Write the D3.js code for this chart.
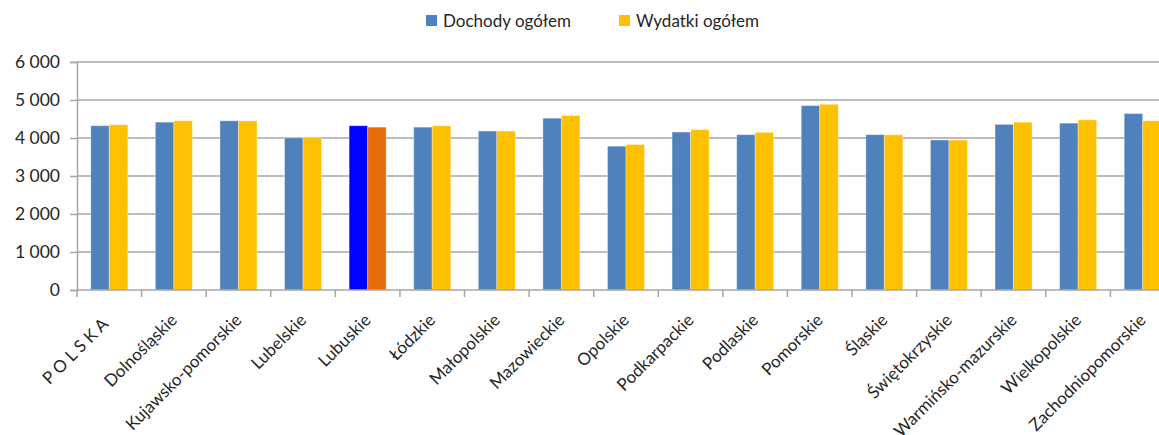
<!DOCTYPE html>
<html><head><meta charset="utf-8">
<script src="https://cdn.jsdelivr.net/npm/d3@7"></script>
<style>body{margin:0;background:#fff;overflow:hidden}svg{display:block}</style>
</head><body>
<script>
const categories = ["P O L S K A","Dolnośląskie","Kujawsko-pomorskie","Lubelskie","Lubuskie","Łódzkie","Małopolskie","Mazowieckie","Opolskie","Podkarpackie","Podlaskie","Pomorskie","Śląskie","Świętokrzyskie","Warmińsko-mazurskie","Wielkopolskie","Zachodniopomorskie"];
const dochody = [4323,4417,4453,4003,4323,4286,4182,4521,3784,4157,4088,4852,4088,3948,4357,4391,4643];
const wydatki = [4349,4453,4450,4010,4286,4323,4182,4591,3828,4219,4148,4887,4085,3945,4417,4479,4453];
const seriesNames = ["Dochody ogółem","Wydatki ogółem"];
const yTicks = [0,1000,2000,3000,4000,5000,6000];
const highlight = "Lubuskie";

const W = 1159, H = 435;
const m = {left:77, top:62, right:-16, bottom:145};
const svg = d3.select("body").append("svg").attr("width",W).attr("height",H);
const font = "Lato, 'Open Sans', sans-serif";

const x = d3.scaleBand().domain(categories).range([m.left, W - m.right]).paddingInner(0).paddingOuter(0);
const y = d3.scaleLinear().domain([0,6000]).range([H - m.bottom, m.top]);
const xs = d3.scaleBand().domain(seriesNames).range([0, x.bandwidth()]).paddingInner(0).paddingOuter(0.745);

// gridlines
svg.append("g").selectAll("line").data(yTicks.filter(d=>d>0)).join("line")
  .attr("x1", m.left).attr("x2", W - m.right)
  .attr("y1", d=>y(d)).attr("y2", d=>y(d))
  .attr("stroke","#a6a6a6").attr("stroke-width",1.5);

// y axis
const ya = svg.append("g").attr("transform",`translate(${m.left},0)`)
  .call(d3.axisLeft(y).tickValues(yTicks).tickSize(7).tickPadding(10)
    .tickFormat(d => d3.format(",")(d).replace(/,/g," ")));
ya.select(".domain").attr("stroke","#a6a6a6").attr("stroke-width",1.5);
ya.selectAll(".tick line").attr("stroke","#a6a6a6").attr("stroke-width",1.5);
ya.selectAll("text").attr("font-family",font).attr("font-size",17.5).attr("fill","#262626");

// bars
const colorsNormal = ["#4F81BD","#FFC000"];
const colorsHi = ["#0000FF","#E46C0A"];
const groups = svg.append("g").selectAll("g").data(categories).join("g")
  .attr("transform", d=>`translate(${x(d)},0)`);
groups.selectAll("rect").data((c,i)=>[
  {c, s:seriesNames[0], v:dochody[i], k:0},
  {c, s:seriesNames[1], v:wydatki[i], k:1}]).join("rect")
  .attr("x", d=>xs(d.s)).attr("width", xs.bandwidth())
  .attr("y", d=>y(d.v)).attr("height", d=>y(0)-y(d.v))
  .attr("fill", d=> d.c===highlight ? colorsHi[d.k] : colorsNormal[d.k])
  .attr("stroke","rgba(255,255,255,0.35)").attr("stroke-width",1);

// x axis
const xa = svg.append("g").attr("transform",`translate(0,${y(0)})`);
xa.append("line").attr("x1",m.left).attr("x2",W - m.right).attr("stroke","#a6a6a6").attr("stroke-width",1.5);
xa.selectAll("line.t").data(categories.concat(["__end"])).join("line").attr("class","t")
  .attr("x1",(d,i)=>m.left + i*x.bandwidth()).attr("x2",(d,i)=>m.left + i*x.bandwidth())
  .attr("y1",0).attr("y2",7).attr("stroke","#a6a6a6").attr("stroke-width",1.5);
xa.selectAll("text").data(categories).join("text")
  .attr("transform", (d,i)=>`translate(${x(d)+x.bandwidth()/2 - (i===0?4:0)},${27 + (i===0?4:0)}) rotate(-45)`)
  .attr("text-anchor","end").attr("dy","0.35em")
  .attr("font-family",font).attr("font-size",17).attr("fill","#262626")
  .text(d=>d);

// legend
const leg = svg.append("g");
const legX = [426, 619];
seriesNames.forEach((s,i)=>{
  leg.append("rect").attr("x",legX[i]).attr("y",15).attr("width",11).attr("height",11).attr("fill",colorsNormal[i]);
  leg.append("text").attr("x",legX[i]+17).attr("y",21).attr("dy","0.35em")
    .attr("font-family",font).attr("font-size",17).attr("fill","#262626").text(s);
});
</script>
</body></html>
